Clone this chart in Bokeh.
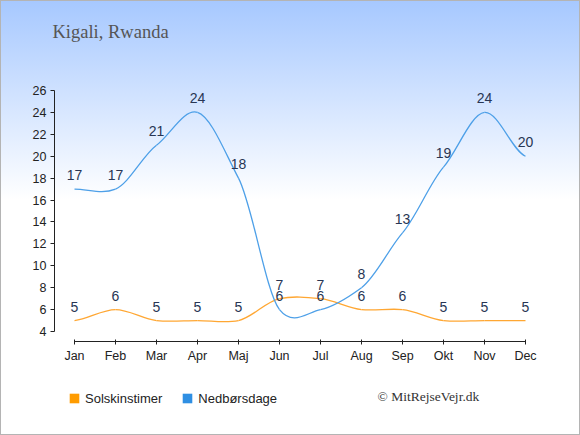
from bokeh.plotting import figure
from bokeh.models import (ColumnDataSource, Range1d, FixedTicker, LinearAxis, Label,
                          Legend, LegendItem)
from bokeh.core.properties import value
from bokeh.embed import file_html
from bokeh.resources import INLINE

months = ["Jan", "Feb", "Mar", "Apr", "Maj", "Jun", "Jul", "Aug", "Sep", "Okt", "Nov", "Dec"]
sun_hours = [5, 6, 5, 5, 5, 7, 7, 6, 6, 5, 5, 5]
rain_days = [17, 17, 21, 24, 18, 6, 6, 8, 13, 19, 24, 20]
y_ticks = [4, 6, 8, 10, 12, 14, 16, 18, 20, 22, 24, 26]
title_text = "Kigali, Rwanda"
credit_text = "© MitRejseVejr.dk"
series_names = ["Solskinstimer", "Nedbørsdage"]

W, H = 580, 435
SANS = "Liberation Sans"
SERIF = "Liberation Serif"

# pixel layout of the chart area
PX_JAN, PX_STEP = 74, 41          # x pixel of first month, pixels per month
PY_TOP, PY_BOT = 90, 331          # pixel rows of y=26 and y=4
PX_YAXIS, PY_XAXIS = 54, 341
ppu = (PY_BOT - PY_TOP) / (y_ticks[-1] - y_ticks[0])

p = figure(width=W, height=H, output_backend="svg", toolbar_location=None,
           x_axis_type=None, y_axis_type=None,
           min_border=0, min_border_left=0, min_border_right=0,
           min_border_top=0, min_border_bottom=0)
p.title.visible = False
p.outline_line_color = None
p.background_fill_color = None
p.border_fill_color = None
p.xgrid.visible = False
p.ygrid.visible = False
p.styles = {"background-image": "linear-gradient(to bottom, #a6c8ff 0px, #ffffff 200px)",
            "background-color": "#ffffff",
            "outline": "1px solid #b4b4b4", "outline-offset": "-1px"}

p.x_range = Range1d(-PX_JAN / PX_STEP, (W - PX_JAN) / PX_STEP)
p.y_range = Range1d(y_ticks[0] - (H - PY_BOT) / ppu, y_ticks[-1] + PY_TOP / ppu)

# axes placed at fixed positions inside the frame
xaxis = LinearAxis(ticker=FixedTicker(ticks=list(range(12))), bounds=(0, 11),
                   major_label_overrides={i: m for i, m in enumerate(months)},
                   fixed_location=y_ticks[0] - (PY_XAXIS - PY_BOT) / ppu)
yaxis = LinearAxis(ticker=FixedTicker(ticks=y_ticks), bounds=(y_ticks[0], y_ticks[-1]),
                   fixed_location=-(PX_JAN - PX_YAXIS) / PX_STEP)
for ax in (xaxis, yaxis):
    ax.axis_line_color = "#222222"
    ax.major_tick_line_color = "#222222"
    ax.minor_tick_line_color = None
    ax.major_label_text_font = SANS
    ax.major_label_text_font_size = "12.5px"
    ax.major_label_text_color = "#222222"
xaxis.major_tick_in = 2
xaxis.major_tick_out = 3
xaxis.major_label_standoff = 4
yaxis.major_tick_in = 0
yaxis.major_tick_out = 4
yaxis.major_label_standoff = 4
p.add_layout(xaxis, "below")
p.add_layout(yaxis, "left")


def bezier_parts(vals, a=0.13):
    n = len(vals)
    x0, y0, x1, y1, cx0, cy0, cx1, cy1 = [], [], [], [], [], [], [], []
    for i in range(n - 1):
        pm = vals[i - 1] if i > 0 else vals[i]
        pn2 = vals[i + 2] if i + 2 < n else vals[i + 1]
        x0.append(i); y0.append(vals[i])
        x1.append(i + 1); y1.append(vals[i + 1])
        cx0.append(i + 1 / 3); cy0.append(vals[i] + a * (vals[i + 1] - pm))
        cx1.append(i + 2 / 3); cy1.append(vals[i + 1] - a * (pn2 - vals[i]))
    return ColumnDataSource(dict(x0=x0, y0=y0, x1=x1, y1=y1, cx0=cx0, cy0=cy0, cx1=cx1, cy1=cy1))


sun_color = "#ffa733"
rain_color = "#4ea0e8"
p.bezier(x0="x0", y0="y0", x1="x1", y1="y1", cx0="cx0", cy0="cy0", cx1="cx1", cy1="cy1",
         source=bezier_parts(sun_hours), line_color=sun_color, line_width=1.3)
p.bezier(x0="x0", y0="y0", x1="x1", y1="y1", cx0="cx0", cy0="cy0", cx1="cx1", cy1="cy1",
         source=bezier_parts(rain_days), line_color=rain_color, line_width=1.3)

xs = list(range(12))
for vals in (sun_hours, rain_days):
    src = ColumnDataSource(dict(x=xs, y=vals, t=[str(v) for v in vals]))
    p.text(x="x", y="y", text="t", source=src, y_offset=-14, text_align="center",
           text_baseline="alphabetic", text_font=value(SANS), text_font_size="14px",
           text_color="#283654")

p.add_layout(Label(x=52, y=31, x_units="canvas", y_units="canvas", text=title_text,
                   text_font=SERIF, text_font_size="18.5px", text_color="#555555",
                   text_baseline="alphabetic", text_align="left"))
p.add_layout(Label(x=377, y=396, x_units="canvas", y_units="canvas", text=credit_text,
                   text_font=SERIF, text_font_size="13.5px", text_color="#333333",
                   text_baseline="alphabetic", text_align="left"))

# legend with square swatches
nan = float("nan")
sw1 = ColumnDataSource(dict(l=[nan], r=[nan], t=[nan], b=[nan]))
sw2 = ColumnDataSource(dict(l=[nan], r=[nan], t=[nan], b=[nan]))
r_sun = p.quad(left="l", right="r", top="t", bottom="b", source=sw1,
               fill_color="#ff9c00", line_color=None)
r_rain = p.quad(left="l", right="r", top="t", bottom="b", source=sw2,
                fill_color="#2f8fe3", line_color=None)
legend = Legend(items=[LegendItem(label=series_names[0], renderers=[r_sun]),
                       LegendItem(label=series_names[1], renderers=[r_rain])],
                orientation="horizontal", location=(68, 29),
                glyph_width=12, glyph_height=12, label_height=16, label_standoff=5,
                spacing=19, padding=0, margin=0, border_line_color=None,
                background_fill_alpha=0, label_text_font=SANS,
                label_text_font_size="13px", label_text_color="#222222")
p.add_layout(legend, "center")

open("out.html", "w").write(file_html(p, INLINE))
